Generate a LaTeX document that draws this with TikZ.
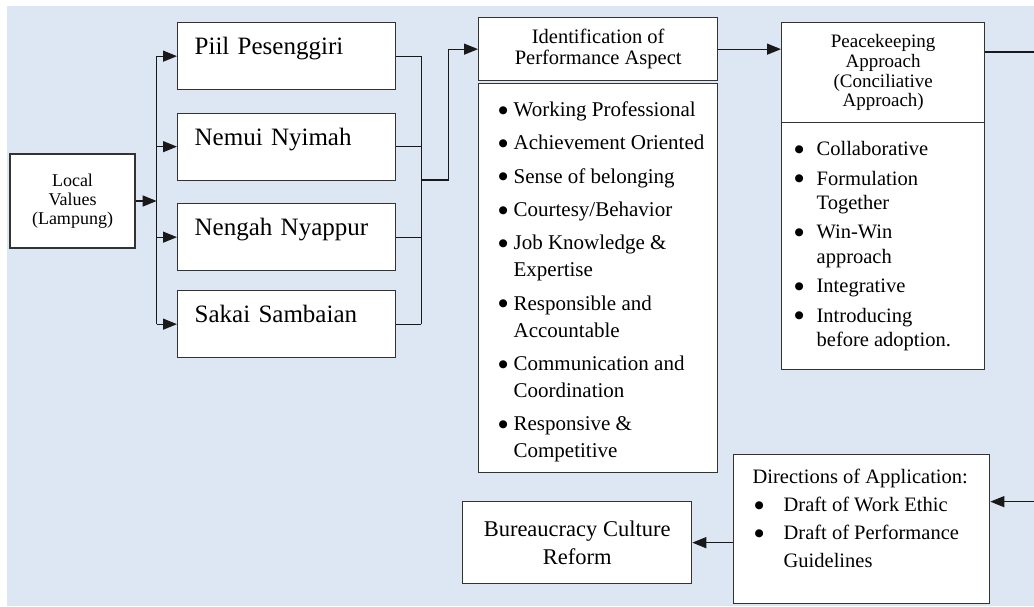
\documentclass[tikz,border=0pt]{standalone}
\usepackage{fontspec}
\setmainfont{Liberation Serif}
\newfontfamily\dejavu{DejaVu Sans}
\usetikzlibrary{arrows.meta}
\definecolor{bgblue}{HTML}{DDE7F3}
\newcommand{\fsz}[2]{\fontsize{#1pt}{#2pt}\selectfont}
\newcommand{\bdot}{\raisebox{3.4pt}{\dejavu\fontsize{10.5pt}{10pt}\selectfont ●}}
\newlength{\bw}
\newlength{\igap}
\newcommand{\fitem}[1]{\par\hangindent=\bw\hangafter=1\noindent\hbox to\bw{\bdot\hfil}#1}
\newcommand{\bitem}[1]{\par\vskip\igap\hangindent=\bw\hangafter=1\noindent\hbox to\bw{\bdot\hfil}#1}
\tikzset{
  box/.style={draw=black!80, line width=1.3pt, fill=white, inner sep=0pt, text=black},
  valbox/.style={box, anchor=north west, text width=184pt, inner xsep=17pt, inner ysep=0pt,
    text height=32pt, text depth=35pt, align=left, font=\fsz{25}{30}},
  conn/.style={draw=black!90, line width=1.3pt},
  arr/.style={conn, -{Triangle[length=14pt,width=11pt]}}
}
\begin{document}
\begin{tikzpicture}[x=1pt,y=-1pt]
\useasboundingbox (0,0) rectangle (1034,606);
\fill[white] (0,0) rectangle (1034,606);
\fill[bgblue] (7,6) rectangle (1034,606);

% left column
\node[box, minimum width=125pt, minimum height=94pt, align=center, font=\fsz{18}{19}] (lv) at (72.5,201) {Local\\Values\\(Lampung)};

\node[valbox] (piil) at (177,22) {Piil Pesenggiri};
\node[valbox] (nemui) at (177,112.5) {Nemui Nyimah};
\node[valbox] (nengah) at (177,203) {Nengah Nyappur};
\node[valbox] (sakai) at (177,290) {Sakai Sambaian};

% identification
\node[box, anchor=north west, minimum width=239pt, minimum height=63pt, align=center, font=\fsz{20.5}{21}] (idh) at (478,17) {Identification of\\Performance Aspect};
\node[box, anchor=north west] (idl) at (478,83) {\parbox[c][389pt][t]{239pt}{\fsz{21}{27}\raggedright\leftskip=20pt\setlength{\bw}{15pt}\setlength{\igap}{6.3pt}%
\fitem{\rule{0pt}{33pt}Working Professional}%
\bitem{Achievement Oriented}%
\bitem{Sense of belonging}%
\bitem{Courtesy/Behavior}%
\bitem{Job Knowledge \&\newline Expertise}%
\bitem{Responsible and\newline Accountable}%
\bitem{Communication and\newline Coordination}%
\bitem{Responsive \&\newline Competitive}\par}};

% peacekeeping
\node[box, anchor=north west, minimum width=203pt, minimum height=100pt, align=center, font=\fsz{19}{19.7}] (pkh) at (781,22) {Peacekeeping\\Approach\\(Conciliative\\Approach)};
\node[box, anchor=north west] (pkl) at (781,122) {\parbox[c][247pt][t]{203pt}{\fsz{20.5}{24.3}\raggedright\leftskip=13pt\setlength{\bw}{22pt}\setlength{\igap}{5.2pt}%
\fitem{\rule{0pt}{33pt}Collaborative}%
\bitem{Formulation\newline Together}%
\bitem{Win-Win\newline approach}%
\bitem{Integrative}%
\bitem{Introducing\newline before adoption.}\par}};

% directions
\node[box, anchor=north west] (dir) at (733,454) {\parbox[c][149pt][t]{256pt}{\fsz{20.5}{28}\raggedright\leftskip=19pt \rule{0pt}{29pt}Directions of Application:\par
\leftskip=21pt\setlength{\bw}{29pt}\setlength{\igap}{0pt}%
\bitem{Draft of Work Ethic}%
\bitem{Draft of Performance\newline Guidelines}\par}};

% bureaucracy
\node[box, anchor=north west, minimum width=229pt, minimum height=82pt, align=center, font=\fsz{22.5}{28}] (bur) at (462,501) {Bureaucracy Culture\\Reform};

% connectors: local values to the four values
\path (lv.east) ++(21pt,0) coordinate (lsplit);
\draw[arr] (lv.east) -- (lsplit);
\draw[conn] (lsplit |- piil.west) -- (lsplit |- sakai.west);
\foreach \n in {piil,nemui,nengah,sakai}
  \draw[arr] (lsplit |- \n.west) -- (\n.west);

% four values to identification
\path (piil.east) ++(25pt,0) coordinate (rsplit);
\draw[conn] (rsplit |- piil.east) -- (rsplit |- sakai.east);
\foreach \n in {piil,nemui,nengah,sakai}
  \draw[conn] (\n.east) -- (rsplit |- \n.east);
\path (rsplit |- 0,180) coordinate (rjoin);
\draw[arr] (rjoin) -- ++(27pt,0) |- (idh.west);

% identification to peacekeeping
\draw[arr] (idh.east) -- (idh.east -| pkh.west);

% peacekeeping to directions (runs off the right edge)
\begin{scope}
\clip (0,0) rectangle (1034,606);
\draw[arr] ([yshift=-30pt]pkh.north east) -- ++(60pt,0) |- ([yshift=27.5pt]dir.east);
\end{scope}

% directions to bureaucracy
\draw[arr] (dir.west |- bur.east) -- (bur.east);
\end{tikzpicture}
\end{document}
